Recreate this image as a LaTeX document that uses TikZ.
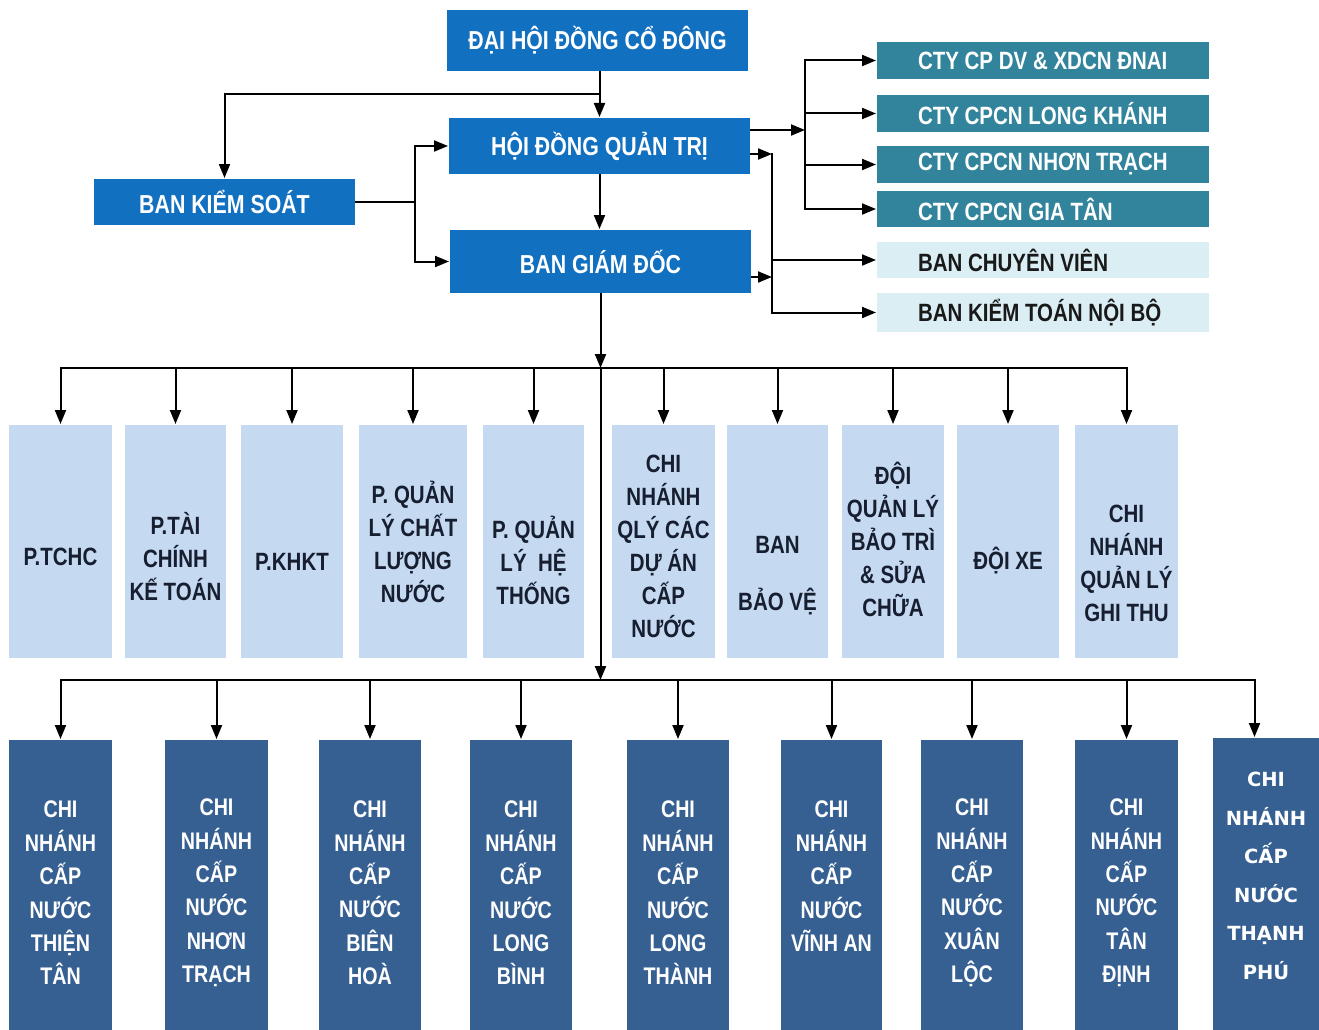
\documentclass[tikz,border=0pt]{standalone}
\usepackage{fontspec}
\usetikzlibrary{arrows.meta}
\newfontfamily\cnd[FakeStretch=0.82]{Liberation Sans}
\newfontfamily\tah{DejaVu Sans}
\definecolor{hdblue}{RGB}{18,112,192}
\definecolor{ctyteal}{RGB}{49,132,155}
\definecolor{paleteal}{RGB}{218,238,243}
\definecolor{phblue}{RGB}{197,217,241}
\definecolor{cnblue}{RGB}{55,96,146}
\definecolor{ink}{RGB}{22,30,48}
\newcommand{\lft}[1]{\makebox[250pt][l]{#1}}
% struts: first line height, last line depth
\newcommand{\vs}[3]{\rule{0pt}{#1pt}#3\rule[-#2pt]{0pt}{0pt}}
\tikzstyle{topbox}=[fill=hdblue, text=white, inner sep=0pt, minimum width=301pt, font=\cnd\bfseries\fontsize{26}{30}\selectfont]
\tikzstyle{ctybox}=[fill=ctyteal, text=white, inner sep=0pt, minimum width=332pt, minimum height=37pt, font=\cnd\bfseries\fontsize{25}{28}\selectfont]
\tikzstyle{palebox}=[ctybox, fill=paleteal, text=black!90]
\tikzstyle{phbox}=[fill=phblue, text=ink, inner sep=0pt, minimum width=102pt, minimum height=233pt, align=center, font=\cnd\bfseries\fontsize{25}{33}\selectfont]
\tikzstyle{cnbox}=[fill=cnblue, text=white, inner sep=0pt, minimum width=102pt, minimum height=306pt, align=center, font=\cnd\bfseries\fontsize{24}{33.4}\selectfont]
\tikzstyle{arr}=[-{Triangle[length=14pt,width=11pt]}]

\begin{document}
\begin{tikzpicture}[x=1pt, y=-1pt, line width=2pt, line cap=rect]
    \clip (0,0) rectangle (1319,1030);
    % ban lanh dao
    \node[topbox, minimum height=61pt] (hdcd) at (597.5,40.5) {ĐẠI HỘI ĐỒNG CỔ ĐÔNG};
    \node[topbox, minimum height=56pt] (hdqt) at (599.5,146) {HỘI ĐỒNG QUẢN TRỊ};
    \node[topbox, minimum height=63pt] (bgd) at (600.5,261.5) {BAN GIÁM ĐỐC};
    \node[topbox, minimum width=261pt, minimum height=46pt] (bks) at (224.5,202) {BAN KIỂM SOÁT};
    % cong ty con, ban
    \node[ctybox] (cty1) at (1043,60.5) {\lft{CTY CP DV \& XDCN ĐNAI}};
    \node[ctybox] (cty2) at (1043,113.5) {\lft{CTY CPCN LONG KHÁNH}};
    \node[ctybox] (cty3) at (1043,164.5) {\lft{CTY CPCN NHƠN TRẠCH}};
    \node[ctybox, minimum height=36pt] (cty4) at (1043,209) {\lft{CTY CPCN GIA TÂN}};
    \node[palebox, minimum height=36pt] (bcv) at (1043,260) {\lft{BAN CHUYÊN VIÊN}};
    \node[palebox, minimum height=39pt] (bktnb) at (1043,312.5) {\lft{BAN KIỂM TOÁN NỘI BỘ}};
    % phong ban
    \node[phbox, minimum width=103pt] (p1) at (60.5,541.5) {\vs{60}{12}{P.TCHC}};
    \node[phbox, minimum width=101pt] (p2) at (175.5,541.5) {\vs{60}{9}{P.TÀI\\CHÍNH\\KẾ TOÁN}};
    \node[phbox] (p3) at (292,541.5) {\vs{60}{2}{P.KHKT}};
    \node[phbox, minimum width=108pt] (p4) at (413,541.5) {\vs{60}{38}{P. QUẢN\\LÝ CHẤT\\LƯỢNG\\NƯỚC}};
    \node[phbox, minimum width=101pt] (p5) at (533.5,541.5) {\vs{66}{6}{P. QUẢN\\LÝ~~HỆ\\THỐNG}};
    \node[phbox, minimum width=103pt] (p6) at (663.5,541.5) {\vs{44}{18}{CHI\\NHÁNH\\QLÝ CÁC\\DỰ ÁN\\CẤP\\NƯỚC}};
    \node[phbox, minimum width=101pt] (p7) at (777.5,541.5) {\vs{94}{13}{BAN\\[24pt]BẢO VỆ}};
    \node[phbox] (p8) at (893,541.5) {\vs{44}{27}{ĐỘI\\QUẢN LÝ\\BẢO TRÌ\\\& SỬA\\CHỮA}};
    \node[phbox] (p9) at (1008,541.5) {\vs{60}{2}{ĐỘI XE}};
    \node[phbox, minimum width=103pt] (p10) at (1126.5,541.5) {\vs{66}{6}{CHI\\NHÁNH\\QUẢN LÝ\\GHI THU}};
    % chi nhanh cap nuoc
    \node[cnbox, minimum width=103pt] (cn1) at (60.5,893) {CHI\\NHÁNH\\CẤP\\NƯỚC\\THIỆN\\TÂN};
    \node[cnbox, minimum width=103pt] (cn2) at (216.5,893) {CHI\\NHÁNH\\CẤP\\NƯỚC\\NHƠN\\TRẠCH};
    \node[cnbox] (cn3) at (370,893) {CHI\\NHÁNH\\CẤP\\NƯỚC\\BIÊN\\HOÀ};
    \node[cnbox] (cn4) at (521,893) {CHI\\NHÁNH\\CẤP\\NƯỚC\\LONG\\BÌNH};
    \node[cnbox] (cn5) at (678,893) {CHI\\NHÁNH\\CẤP\\NƯỚC\\LONG\\THÀNH};
    \node[cnbox, minimum width=101pt] (cn6) at (831.5,893) {CHI\\NHÁNH\\CẤP\\NƯỚC\\VĨNH AN\\~};
    \node[cnbox] (cn7) at (972,893) {CHI\\NHÁNH\\CẤP\\NƯỚC\\XUÂN\\LỘC};
    \node[cnbox, minimum width=103pt] (cn8) at (1126.5,893) {CHI\\NHÁNH\\CẤP\\NƯỚC\\TÂN\\ĐỊNH};
    \node[cnbox, minimum width=109pt] (cn9) at (1267.5,891) {};
    \node[text=white, align=center, font=\tah\bfseries\fontsize{19.5}{38.5}\selectfont] (cn9t) at (1266,876) {CHI\\NHÁNH\\CẤP\\NƯỚC\\THẠNH\\PHÚ};
    % duong noi
    \coordinate (ja) at (600,94);
    \coordinate (jb) at (415,202);
    \draw[arr] (hdqt.north |- hdcd.south) -- (hdqt.north);
    \draw[arr] (ja) -| (bks.north);
    \draw (bks.east) -- (jb);
    \draw[arr] (jb) |- (hdqt.west);
    \draw[arr] (jb) |- (bgd.west);
    \draw[arr] (hdqt.south) -- (hdqt.south |- bgd.north);
    \coordinate (busa) at (805,130);
    \coordinate (busb) at (772,154);
    \coordinate (busc) at (772,277);
    \draw[arr] (hdqt.east |- busa) -- (busa);
    \draw (busa |- cty1.west) -- (busa |- cty4.west);
    \foreach \c in {cty1,cty2,cty3,cty4}
        \draw[arr] (busa |- \c.west) -- (\c.west);
    \draw[arr] (hdqt.east |- busb) -- (busb);
    \draw[arr] (bgd.east |- busc) -- (busc);
    \draw (busb) -- (busb |- bktnb.west);
    \foreach \c in {bcv,bktnb}
        \draw[arr] (busb |- \c.west) -- (\c.west);
    \coordinate (busp) at (600.5,368);
    \coordinate (busq) at (600.5,680);
    \draw[arr] (bgd.south) -- (busp);
    \draw[arr] (busp) -- (busq);
    \draw (p1.north |- busp) -- (p10.north |- busp);
    \foreach \i in {1,...,10}
        \draw[arr] (p\i.north |- busp) -- (p\i.north);
    \coordinate (cn9top) at ([xshift=-13pt]cn9.north);
    \draw (cn1.north |- busq) -- (cn9top |- busq);
    \foreach \i in {1,...,8}
        \draw[arr] (cn\i.north |- busq) -- (cn\i.north);
    \draw[arr] (cn9top |- busq) -- (cn9top);
\end{tikzpicture}
\end{document}
